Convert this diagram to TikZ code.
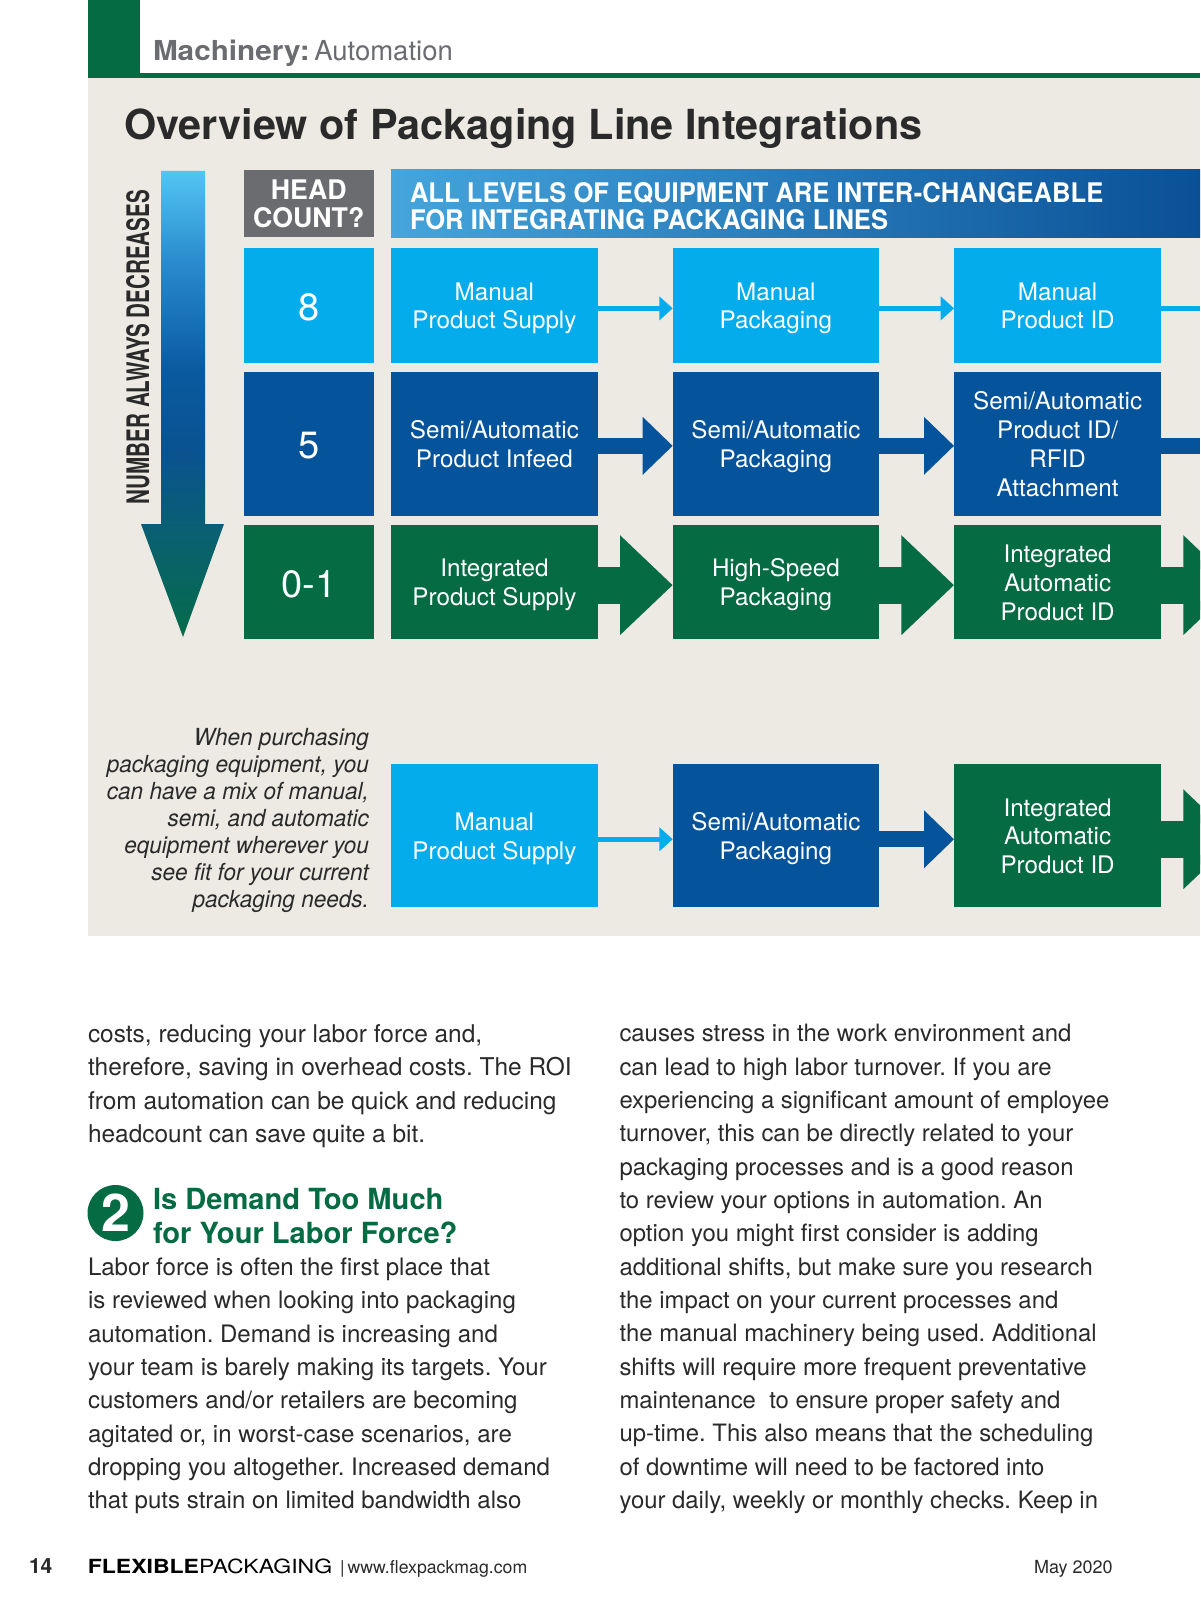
\documentclass[tikz,border=0pt]{standalone}
\usepackage{fontspec}
\usetikzlibrary{arrows.meta}
\setmainfont{TeX Gyre Heros}
\newfontfamily\fcond[FakeStretch=0.948]{TeX Gyre Heros}
\newfontfamily\fhead[FakeStretch=0.99]{TeX Gyre Heros}
\newfontfamily\fnarrow[FakeStretch=0.664]{TeX Gyre Heros}
\newfontfamily\fwide[FakeStretch=1.18]{TeX Gyre Heros}
\newfontfamily\fnote[FakeStretch=0.96]{TeX Gyre Heros}
\newfontfamily\fsec[FakeStretch=1.08]{TeX Gyre Heros}
\definecolor{lightb}{HTML}{05ACEB}
\definecolor{midb}{HTML}{05539B}
\definecolor{greenb}{HTML}{046B43}
\definecolor{grayb}{HTML}{6A6C70}
\definecolor{panel}{HTML}{ECEAE3}
\definecolor{inkb}{HTML}{2A2A2A}
\definecolor{cbanA}{HTML}{45A5DC}
\definecolor{cbanB}{HTML}{2F8DCB}
\definecolor{cbanC}{HTML}{0A5097}
\definecolor{sa}{HTML}{056B4A}
\definecolor{sb}{HTML}{0A5F72}
\definecolor{sc}{HTML}{0A5290}
\definecolor{sd}{HTML}{0A5AA0}
\definecolor{se}{HTML}{2A8CCD}
\definecolor{sf}{HTML}{52C5F3}
\pgfdeclareverticalshading{downbar}{100bp}{color(0bp)=(sa); color(25bp)=(sa); color(36.5bp)=(sb); color(45bp)=(sc); color(53.6bp)=(sd); color(65.4bp)=(se); color(75bp)=(sf); color(100bp)=(sf)}
% fixed height above the first line and depth below the last, so every label sits alike
\newcommand\fl[1]{\rule{0pt}{24pt}#1\rule[-5.7pt]{0pt}{5.7pt}}
\newcommand\fd[1]{\rule{0pt}{30.7pt}#1}
\frenchspacing
\tikzset{
  flowbox/.style={inner sep=0pt,outer sep=0pt,text=white,align=center,font=\fontsize{24.2}{28.8}\selectfont},
  lightbox/.style={flowbox,fill=lightb},
  midbox/.style={flowbox,fill=midb},
  greenbox/.style={flowbox,fill=greenb},
  colA/.style={minimum width=206.8pt},
  colB/.style={minimum width=206.4pt},
  colC/.style={minimum width=207.1pt},
  colH/.style={minimum width=129.5pt,font=\fontsize{38}{44}\selectfont},
  rowA/.style={minimum height=114.7pt},
  rowB/.style={minimum height=143.7pt},
  rowC/.style={minimum height=114.3pt},
  rowD/.style={minimum height=143.3pt},
  thinarrow/.style={draw=lightb,line width=4.7pt,-{Triangle[length=13.4pt,width=23.3pt,fill=lightb]}},
  medarrow/.style={draw=midb,line width=15.7pt,-{Triangle[length=30pt,width=56pt,fill=midb]}},
  bigarrow/.style={draw=greenb,line width=37.3pt,-{Triangle[length=52.7pt,width=96.6pt,fill=greenb]}},
  thinstub/.style={draw=lightb,line width=4.7pt},
  medstub/.style={draw=midb,line width=15.7pt},
  label/.style={inner sep=0pt,outer sep=0pt},
  bodytext/.style={label,anchor=north west,align=left,text=inkb},
}
\begin{document}
\begin{tikzpicture}[x=1pt,y=-1pt]
\useasboundingbox (0,0) rectangle (1200,1613);
\clip (0,0) rectangle (1200,1613);
\fill[white] (0,0) rectangle (1200,1613);
% header and panel
\fill[panel] (87.6,77.7) rectangle (1200,935.7);
\fill[greenb] (87.6,0) rectangle (140,77.7);
\fill[greenb] (87.6,73.4) rectangle (1200,77.7);
\node[label,anchor=base west,text=grayb,font=\fontsize{27.5}{30}\selectfont] (section) at (153,61) {{\fsec\bfseries Machinery:}\kern-3pt{} Automation};
\node[label,anchor=base west,text=inkb,font=\fontsize{41.4}{46}\selectfont\bfseries] (title) at (124,140) {Overview of Packaging Line Integrations};
% side arrow
\shade[shading=downbar] (161,171) -- (205,171) -- (205,524) -- (224,524) -- (183,637) -- (141,524) -- (161,524) -- cycle;
\node[label,rotate=90,anchor=base,text=inkb,font=\fontsize{31}{34}\fnarrow\bfseries] (side) at (149,347) {NUMBER ALWAYS DECREASES};
% headers
\node[flowbox,fill=grayb,minimum width=129.5pt,minimum height=67pt,font=\fontsize{27}{27.7}\fhead\bfseries] (head) at (308.75,203.5) {\rule{0pt}{20.7pt}HEAD\\COUNT?};
\shade[left color=cbanA,middle color=cbanB,right color=cbanC] (391,170) rectangle (1200,238);
\node[label,anchor=west,align=left,text=white,font=\fontsize{27}{27}\fcond\bfseries] (banner) at (410,206) {ALL LEVELS OF EQUIPMENT ARE INTER-CHANGEABLE\\FOR INTEGRATING PACKAGING LINES};
% head-count boxes
\node[lightbox,colH,rowA] (n8) at (308.75,305.35) {\fd{8}};
\node[midbox,colH,rowB] (n5) at (308.75,443.85) {\fd{5}};
\node[greenbox,colH,rowC] (n0) at (308.75,582.15) {\fd{0-1}};
% row 1
\node[lightbox,colA,rowA] (a1) at (494.4,305.35) {\fl{Manual\\Product Supply}};
\node[lightbox,colB,rowA] (a2) at (775.9,305.35) {\fl{Manual\\Packaging}};
\node[lightbox,colC,rowA] (a3) at (1057.6,305.35) {\fl{Manual\\Product ID}};
% row 2
\node[midbox,colA,rowB] (b1) at (494.4,443.85) {\fl{Semi/Automatic\\Product Infeed}};
\node[midbox,colB,rowB] (b2) at (775.9,443.85) {\fl{Semi/Automatic\\Packaging}};
\node[midbox,colC,rowB] (b3) at (1057.6,443.85) {\fl{Semi/Automatic\\Product ID/\\RFID\\Attachment}};
% row 3
\node[greenbox,colA,rowC] (c1) at (494.4,582.15) {\fl{Integrated\\Product Supply}};
\node[greenbox,colB,rowC] (c2) at (775.9,582.15) {\fl{High-Speed\\Packaging}};
\node[greenbox,colC,rowC] (c3) at (1057.6,582.15) {\fl{Integrated\\Automatic\\Product ID}};
% row 4
\node[lightbox,colA,rowD] (d1) at (494.4,835.65) {\fl{Manual\\Product Supply}};
\node[midbox,colB,rowD] (d2) at (775.9,835.65) {\fl{Semi/Automatic\\Packaging}};
\node[greenbox,colC,rowD] (d3) at (1057.6,835.65) {\fl{Integrated\\Automatic\\Product ID}};
% free ends of the connectors that leave the page
\coordinate (endA) at (1200,305.35);
\coordinate (endB) at (1200,443.85);
\coordinate (endC) at (1236,582.15);
\coordinate (endD) at (1236,835.65);
% connectors
\draw[thinarrow] ([yshift=-3pt]a1.east) -- ([yshift=-3pt]a2.west);
\draw[thinarrow] ([yshift=-3pt]a2.east) -- ([yshift=-3pt]a3.west);
\draw[thinstub] ([yshift=-3pt]a3.east) -- ([yshift=-3pt]endA);
\draw[medarrow] ([yshift=-2pt]b1.east) -- ([yshift=-2pt]b2.west);
\draw[medarrow] ([yshift=-2pt]b2.east) -- ([yshift=-2pt]b3.west);
\draw[medstub] ([yshift=-2pt]b3.east) -- ([yshift=-2pt]endB);
\draw[bigarrow] ([yshift=-3pt]c1.east) -- ([yshift=-3pt]c2.west);
\draw[bigarrow] ([yshift=-3pt]c2.east) -- ([yshift=-3pt]c3.west);
\draw[bigarrow] ([yshift=-3pt]c3.east) -- ([yshift=-3pt]endC);
\draw[thinarrow] ([yshift=-3.6pt]d1.east) -- ([yshift=-3.6pt]d2.west);
\draw[medarrow] ([yshift=-3.6pt]d2.east) -- ([yshift=-3.6pt]d3.west);
\draw[bigarrow] ([yshift=-3.6pt]d3.east) -- ([yshift=-3.6pt]endD);
% note
\node[label,anchor=east,align=right,text=inkb,font=\fontsize{23.5}{27}\fnote\itshape] (note) at (369,820.5) {When purchasing\\packaging equipment, you\\can have a mix of manual,\\semi, and automatic\\equipment wherever you\\see fit for your current\\packaging needs.};
% article text
\node[bodytext,font=\fontsize{24.45}{33.33}\selectfont] (bodyA) at (88,1024.5) {costs, reducing your labor force and,\\therefore, saving in overhead costs. The ROI\\from automation can be quick and reducing\\headcount can save quite a bit.};
\node[circle,fill=greenb,minimum size=56pt,inner sep=0pt,text=white,font=\fontsize{52}{54}\selectfont\bfseries] (two) at (115.5,1213) {2};
\node[label,anchor=north west,align=left,text=greenb,font=\fontsize{29.1}{33.33}\selectfont\bfseries] (heading) at (153,1188.5) {Is Demand Too Much\\for Your Labor Force?};
\node[bodytext,font=\fontsize{24.05}{33.33}\selectfont] (bodyB) at (88,1258) {Labor force is often the first place that\\is reviewed when looking into packaging\\automation. Demand is increasing and\\your team is barely making its targets. Your\\customers and/or retailers are becoming\\agitated or, in worst-case scenarios, are\\dropping you altogether. Increased demand\\that puts strain on limited bandwidth also};
\node[bodytext,font=\fontsize{23.9}{33.33}\selectfont] (bodyC) at (619.5,1024.5) {causes stress in the work environment and\\can lead to high labor turnover. If you are\\experiencing a significant amount of employee\\turnover, this can be directly related to your\\packaging processes and is a good reason\\to review your options in automation. An\\option you might first consider is adding\\additional shifts, but make sure you research\\the impact on your current processes and\\the manual machinery being used. Additional\\shifts will require more frequent preventative\\maintenance \ to ensure proper safety and\\up-time. This also means that the scheduling\\of downtime will need to be factored into\\your daily, weekly or monthly checks. Keep in};
% footer
\node[label,anchor=base west,text=inkb,font=\fontsize{21}{24}\selectfont\bfseries] (page) at (29,1573) {14};
\node[label,anchor=base west,text=black,font=\fontsize{19.5}{22}\fwide] (mag) at (87.8,1573) {\textbf{FLEXIBLE}PACKAGING};
\node[label,anchor=base west,text=inkb,font=\fontsize{17.7}{22}\selectfont] (url) at (340,1573) {|\kern-2pt{} www.flexpackmag.com};
\node[label,anchor=base west,text=inkb,font=\fontsize{18}{22}\selectfont] (date) at (1034,1573) {May 2020};
\end{tikzpicture}
\end{document}
